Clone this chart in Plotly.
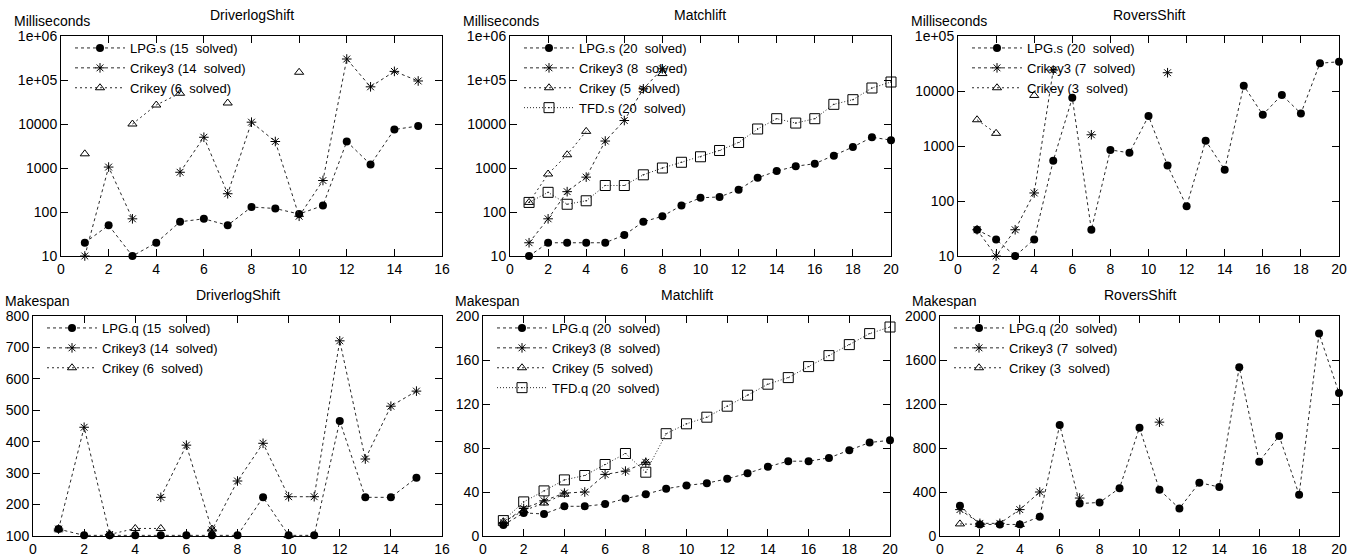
import plotly.graph_objects as go

W, H = 1362, 557

# ---------------- data ----------------
x15 = list(range(1, 16))
x20 = list(range(1, 21))

# Top row: time in milliseconds (log scale)
dl_lpg_ms = [20, 50, 10, 20, 60, 70, 50, 130, 120, 90, 140, 4000, 1200, 7500, 9000]
dl_crikey3_ms = [10, 1050, 70, None, 800, 5000, 260, 11000, 4000, 80, 520, 300000, 70000, 157000, 95000]
dl_crikey_ms = [2100, None, 10000, 27000, 50000, None, 30000, None, None, 150000, None, None, None, None, None]

ml_lpg_ms = [10, 20, 20, 20, 20, 30, 60, 80, 140, 210, 220, 320, 600, 850, 1100, 1250, 1900, 3000, 5000, 4300]
ml_crikey3_ms = [20, 70, 290, 620, 4100, 12000, 63000, 180000] + [None] * 12
ml_crikey_ms = [165, 730, 2000, 6800, None, None, None, 140000] + [None] * 12
ml_tfd_ms = [165, 280, 150, 180, 400, 400, 700, 1000, 1350, 1800, 2500, 3800, 7700, 13200, 10500, 13200,
             28000, 35700, 65800, 90000]

rs_lpg_ms = [30, 20, 10, 20, 540, 7500, 30, 850, 750, 3500, 440, 80, 1250, 370, 12500, 3700, 8500, 3900,
             32000, 34000]
rs_crikey3_ms = [30, 10, 30, 140, 24000, None, 1600, None, None, None, 21500] + [None] * 9
rs_crikey_ms = [3000, 1700, None, 8300] + [None] * 16

# Bottom row: makespan
dl_lpg_mk = [122, 102, 102, 102, 102, 102, 102, 102, 223, 102, 102, 466, 223, 223, 285]
dl_crikey3_mk = [122, 446, 105, None, 223, 389, 119, 275, 395, 225, 225, 721, 345, 513, 561]
dl_crikey_mk = [122, None, 105, 124, 124, None, 122, None, None, 102, None, None, None, None, None]

ml_lpg_mk = [10, 21, 20, 27, 27, 29, 34, 38, 43, 46, 48, 52, 57, 63, 68, 68, 71, 78, 85, 87]
ml_crikey3_mk = [12, 25, 32, 39, 40, 56, 59, 67] + [None] * 12
ml_crikey_mk = [13, 23, 30, 38, None, None, None, 67] + [None] * 12
ml_tfd_mk = [14, 31, 41, 51, 55, 65, 75, 58, 93, 102, 108, 118, 128, 138, 144, 154, 164, 174, 184, 190]

rs_lpg_mk = [275, 105, 105, 105, 175, 1010, 295, 305, 435, 985, 420, 250, 485, 445, 1535, 675, 910, 375,
             1840, 1300]
rs_crikey3_mk = [240, 115, 115, 240, 400, None, 345, None, None, None, 1035] + [None] * 9
rs_crikey_mk = [110, 105, None, 105] + [None] * 16

titles = ["DriverlogShift", "Matchlift", "RoversShift", "DriverlogShift", "Matchlift", "RoversShift"]
ylabels = ["Milliseconds"] * 3 + ["Makespan"] * 3

log_tickvals = [10, 100, 1000, 10000, 100000, 1000000]
log_ticktext = ["10", "100", "1000", "10000", "1e+05", "1e+06"]

# ---------------- layout geometry (pixels) ----------------
# (left, right, top, bottom) of each plot area
boxes = [
    (61, 442, 36, 256), (510, 891, 36, 256), (958, 1339, 36, 256),
    (33, 442, 316, 536), (483, 890, 316, 536), (940, 1339, 316, 536),
]


def px(x):
    return x / W


def py(y):
    return 1 - y / H


FONT = "Liberation Sans, Arial, Helvetica, sans-serif"
LINE_C = "#2a2a2a"

styles = {
    "LPG": dict(dash="3px,3px", symbol="circle", size=8, mline=0),
    "Crikey3": dict(dash="3px,3px", symbol="asterisk-open", size=8, mline=1),
    "Crikey": dict(dash="2px,3px", symbol="triangle-up-open", size=8, mline=1),
    "TFD": dict(dash="1px,2px", symbol="square-open-dot", size=10, mline=1),
}

panels = [
    (x15, [("LPG", "LPG.s (15\u00a0 solved)", dl_lpg_ms),
           ("Crikey3", "Crikey3 (14\u00a0 solved)", dl_crikey3_ms),
           ("Crikey", "Crikey (6\u00a0 solved)", dl_crikey_ms)]),
    (x20, [("LPG", "LPG.s (20\u00a0 solved)", ml_lpg_ms),
           ("Crikey3", "Crikey3 (8\u00a0 solved)", ml_crikey3_ms),
           ("Crikey", "Crikey (5\u00a0 solved)", ml_crikey_ms),
           ("TFD", "TFD.s (20\u00a0 solved)", ml_tfd_ms)]),
    (x20, [("LPG", "LPG.s (20\u00a0 solved)", rs_lpg_ms),
           ("Crikey3", "Crikey3 (7\u00a0 solved)", rs_crikey3_ms),
           ("Crikey", "Crikey (3\u00a0 solved)", rs_crikey_ms)]),
    (x15, [("LPG", "LPG.q (15\u00a0 solved)", dl_lpg_mk),
           ("Crikey3", "Crikey3 (14\u00a0 solved)", dl_crikey3_mk),
           ("Crikey", "Crikey (6\u00a0 solved)", dl_crikey_mk)]),
    (x20, [("LPG", "LPG.q (20\u00a0 solved)", ml_lpg_mk),
           ("Crikey3", "Crikey3 (8\u00a0 solved)", ml_crikey3_mk),
           ("Crikey", "Crikey (5\u00a0 solved)", ml_crikey_mk),
           ("TFD", "TFD.q (20\u00a0 solved)", ml_tfd_mk)]),
    (x20, [("LPG", "LPG.q (20\u00a0 solved)", rs_lpg_mk),
           ("Crikey3", "Crikey3 (7\u00a0 solved)", rs_crikey3_mk),
           ("Crikey", "Crikey (3\u00a0 solved)", rs_crikey_mk)]),
]

yaxes_cfg = [
    dict(type="log", range=[1, 6], tickvals=log_tickvals, ticktext=log_ticktext),
    dict(type="log", range=[1, 6], tickvals=log_tickvals, ticktext=log_ticktext),
    dict(type="log", range=[1, 5], tickvals=log_tickvals[:5], ticktext=log_ticktext[:5]),
    dict(range=[100, 800], tickvals=[100, 200, 300, 400, 500, 600, 700, 800]),
    dict(range=[0, 200], tickvals=[0, 40, 80, 120, 160, 200]),
    dict(range=[0, 2000], tickvals=[0, 400, 800, 1200, 1600, 2000]),
]
xaxes_cfg = [
    dict(range=[0, 16], tickvals=list(range(0, 17, 2))),
    dict(range=[0, 20], tickvals=list(range(0, 21, 2))),
    dict(range=[0, 20], tickvals=list(range(0, 21, 2))),
    dict(range=[0, 16], tickvals=list(range(0, 17, 2))),
    dict(range=[0, 20], tickvals=list(range(0, 21, 2))),
    dict(range=[0, 20], tickvals=list(range(0, 21, 2))),
]

fig = go.Figure()
layout = dict(
    width=W, height=H,
    margin=dict(l=0, r=0, t=0, b=0, autoexpand=False),
    paper_bgcolor="white", plot_bgcolor="white",
    font=dict(family=FONT, size=14, color="black"),
    annotations=[],
)

common_axis = dict(
    showline=True, linecolor="black", linewidth=1, mirror="allticks",
    ticks="inside", ticklen=7, tickwidth=1, tickcolor="black",
    showgrid=False, zeroline=False, automargin=False,
    tickfont=dict(family=FONT, size=14, color="black"),
)

for i, ((xs, series), (l, r, t, b)) in enumerate(zip(panels, boxes)):
    n = "" if i == 0 else str(i + 1)
    xa, ya = "x" + n, "y" + n
    leg = "legend" + n
    for key, name, vals in series:
        st = styles[key]
        fig.add_trace(go.Scatter(
            x=xs, y=vals, name=name, mode="lines+markers",
            xaxis=xa, yaxis=ya, legend=leg, cliponaxis=False,
            line=dict(color=LINE_C, width=1, dash=st["dash"]),
            marker=dict(symbol=st["symbol"], size=st["size"], color="black",
                        line=dict(color="black", width=st["mline"])),
        ))
    layout["xaxis" + n] = dict(domain=[px(l), px(r)], anchor=ya, **common_axis, **xaxes_cfg[i])
    layout["yaxis" + n] = dict(domain=[py(b), py(t)], anchor=xa, **common_axis, **yaxes_cfg[i])
    layout[leg] = dict(
        x=px(l + 9), y=py(t - 3), xanchor="left", yanchor="top",
        bgcolor="rgba(0,0,0,0)", borderwidth=0, itemwidth=50,
        font=dict(family=FONT, size=13, color="black"),
        tracegroupgap=0,
    )
    # subplot title
    layout["annotations"].append(dict(
        text=titles[i], x=px((l + r) / 2), y=py(t - 21), xref="paper", yref="paper",
        xanchor="center", yanchor="middle", showarrow=False,
        font=dict(family=FONT, size=14, color="black"),
    ))
    # y-axis unit label
    layout["annotations"].append(dict(
        text=ylabels[i], x=px(l - (49 if i < 3 else 30)), y=py(t - 15), xref="paper", yref="paper",
        xanchor="left", yanchor="middle", showarrow=False,
        font=dict(family=FONT, size=14, color="black"),
    ))

fig.update_layout(**layout)
fig.write_html(
    "out.html",
    config={"displayModeBar": False},
    post_script="document.body.style.margin='0px'; document.body.style.overflow='hidden';",
)
